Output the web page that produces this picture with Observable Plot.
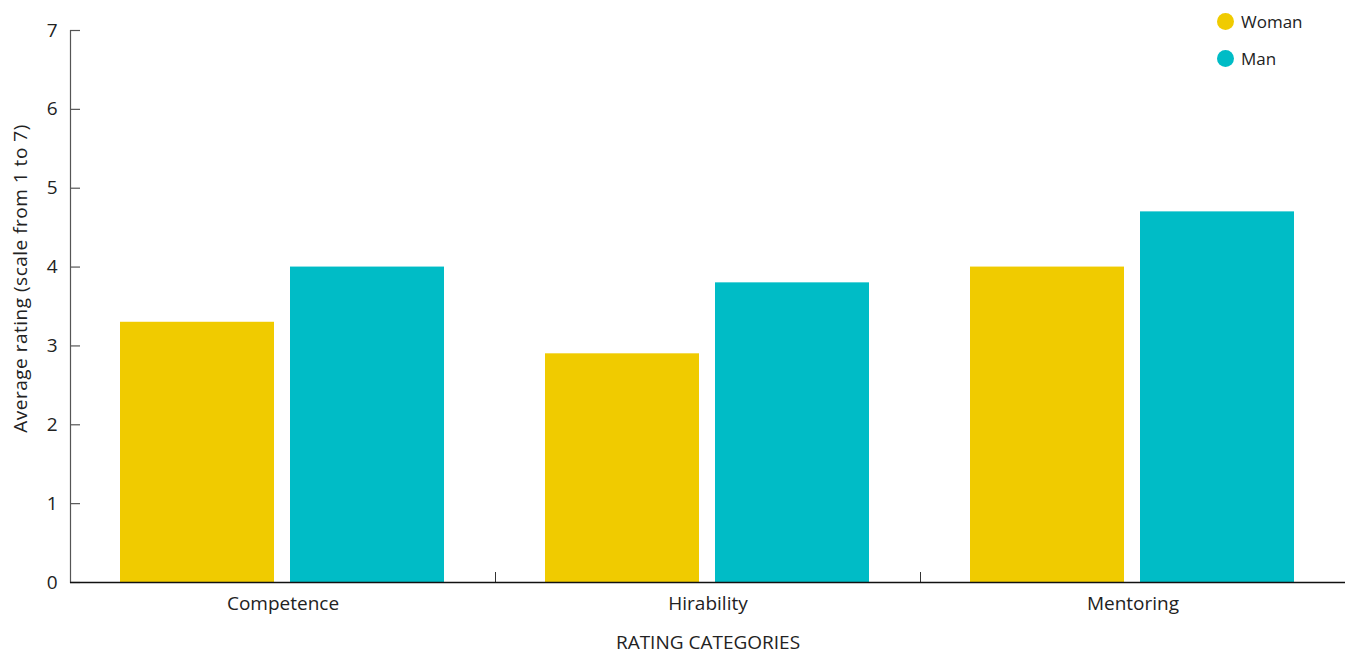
<!DOCTYPE html>
<html>
<head>
<meta charset="utf-8">
<script src="https://cdn.jsdelivr.net/npm/d3@7"></script>
<script src="https://cdn.jsdelivr.net/npm/@observablehq/plot@0.6"></script>
<style>
  html, body { margin: 0; padding: 0; background: #fff; }
  #wrap { position: relative; width: 1345px; height: 654px; }
  #legend { position: absolute; left: 1217px; top: 3px; font-family: "Open Sans", sans-serif; font-size: 17px; color: #222; }
  .item { display: flex; align-items: center; height: 37px; }
  .sw { width: 17px; height: 17px; border-radius: 50%; margin-right: 7px; }
  .ylab text { letter-spacing: 0.5px; }
</style>
</head>
<body>
<div id="wrap"><div id="legend"></div></div>
<script>
const categories = ["Competence", "Hirability", "Mentoring"];
const genders = ["Woman", "Man"];
const womanValues = [3.3, 2.9, 4.0];
const manValues = [4.0, 3.8, 4.7];
const yTicks = [0, 1, 2, 3, 4, 5, 6, 7];
const colors = ["#F0CB00", "#00BCC6"];

const data = categories.flatMap((c, i) => [
  {category: c, gender: "Woman", value: womanValues[i]},
  {category: c, gender: "Man", value: manValues[i]}
]);

const chart = Plot.plot({
  width: 1345,
  height: 654,
  marginLeft: 70,
  marginRight: 0,
  marginTop: 30,
  marginBottom: 72,
  style: {fontFamily: "Open Sans, sans-serif", fontSize: "18px", color: "#222", background: "white"},
  fx: {domain: categories, padding: 0, label: null},
  x: {domain: genders, paddingInner: 0.094, paddingOuter: 0.297, axis: null},
  y: {domain: [0, 7], ticks: yTicks},
  color: {domain: genders, range: colors},
  marks: [
    Plot.barY(data, {fx: "category", x: "gender", y: "value", fill: "gender"}),
    Plot.frame({anchor: "left", facetAnchor: "left", stroke: "#555", strokeWidth: 1.2}),
    Plot.frame({anchor: "right", stroke: "#333", insetTop: 542}),
    Plot.axisY({ticks: yTicks, tickSize: -10, text: null, label: null, stroke: "#555", strokeWidth: 1.2}),
    Plot.axisY({ticks: yTicks, tickFormat: d3.format("d"), tickSize: 0, tickPadding: 13, label: null, fontSize: 19, fill: "#222"}),
    Plot.text(["Average rating (scale from 1 to 7)"], {
      frameAnchor: "left", facetAnchor: "left", rotate: -90, dx: -50, dy: -28,
      textAnchor: "middle", fontSize: 19, fill: "#222", text: d => d, className: "ylab"
    }),
    Plot.ruleY([0], {stroke: "#111", strokeWidth: 1.6}),
    Plot.axisFx({anchor: "bottom", tickSize: 0, tickPadding: 14, fontSize: 19, fill: "#222", label: "RATING CATEGORIES", labelAnchor: "center", labelArrow: "none", labelOffset: 66})
  ]
});
document.getElementById("wrap").prepend(chart);

const legend = d3.select("#legend");
genders.forEach((g, i) => {
  const it = legend.append("div").attr("class", "item");
  it.append("div").attr("class", "sw").style("background", colors[i]);
  it.append("span").text(g);
});
</script>
</body>
</html>
